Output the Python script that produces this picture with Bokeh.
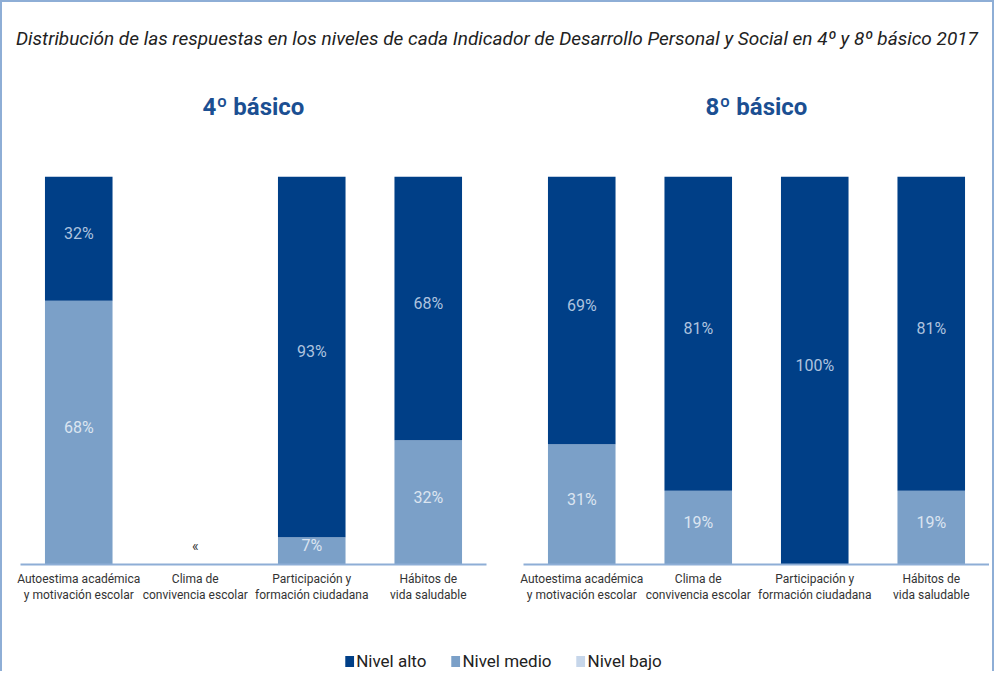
import numpy as np
from bokeh.plotting import figure
from bokeh.models import ColumnDataSource, FactorRange, Range1d, Legend, LegendItem, Div, Title
from bokeh.layouts import column, row
from bokeh.core.properties import value
from bokeh.embed import file_html
from bokeh.resources import INLINE

# ---------------- data ----------------
titulo = ("Distribución de las respuestas en los niveles de cada Indicador de "
          "Desarrollo Personal y Social en 4º y 8º básico 2017")
grados = ["4º básico", "8º básico"]
indicadores = ["Autoestima académica\ny motivación escolar",
               "Clima de\nconvivencia escolar",
               "Participación y\nformación ciudadana",
               "Hábitos de\nvida saludable"]
niveles = ["Nivel alto", "Nivel medio", "Nivel bajo"]
alto_4 = [32, None, 93, 68]
medio_4 = [68, None, 7, 32]
bajo_4 = [0, None, 0, 0]
alto_8 = [69, 81, 100, 81]
medio_8 = [31, 19, 0, 19]
bajo_8 = [0, 0, 0, 0]
sin_dato = "«"

# ---------------- style ----------------
FONT = "Roboto"
col_niveles = ["#003f87", "#7ba0c8", "#c6d6ea"]
col_etiqueta = ["#aec3df", "#dbe5f1", "#5a7fae"]
BORDE = "#8eaed6"


def fuente(alto, medio, bajo):
    a = np.array([np.nan if v is None else v for v in alto], dtype=float)
    m = np.array([np.nan if v is None else v for v in medio], dtype=float)
    b = np.array([np.nan if v is None else v for v in bajo], dtype=float)
    return ColumnDataSource(dict(cat=indicadores, alto=a, medio=m, bajo=b))


def etiquetas(alto, medio, bajo):
    xs, ys, ts, cs = [], [], [], []
    for i, cat in enumerate(indicadores):
        if alto[i] is None:
            continue
        base = 0.0
        for val, k in ((bajo[i], 2), (medio[i], 1), (alto[i], 0)):
            if val and val > 0:
                xs.append(cat)
                ys.append(base + val / 2.0)
                ts.append(f"{val}%")
                cs.append(col_etiqueta[k])
            base += val
    return ColumnDataSource(dict(x=xs, y=ys, t=ts, c=cs))


def panel(nombre, alto, medio, bajo, mbl, mbr):
    p = figure(x_range=FactorRange(*indicadores), y_range=Range1d(0, 100),
               frame_width=466, frame_height=388, output_backend="svg",
               toolbar_location=None, y_axis_location=None,
               min_border_left=mbl, min_border_right=mbr,
               min_border_top=108, min_border_bottom=64, outline_line_color=None,
               title=nombre)
    p.title.align = "center"
    p.title.text_font = FONT
    p.title.text_font_size = "24px"
    p.title.text_font_style = "bold"
    p.title.text_color = "#1b4f92"
    p.title.standoff = 10
    # empty spacer panel between the panel title and the bars
    p.add_layout(Title(text=" ", text_font_size="1px", standoff=48), "above")
    src = fuente(alto, medio, bajo)
    p.vbar_stack(["bajo", "medio", "alto"], x="cat", width=0.58, source=src,
                 color=[col_niveles[2], col_niveles[1], col_niveles[0]], line_color=None)
    lab = etiquetas(alto, medio, bajo)
    p.text(x="x", y="y", text="t", text_color="c", source=lab, text_align="center",
           text_baseline="middle", text_font=value(FONT), text_font_size="16px",
           y_offset=-5)
    faltan = [indicadores[i] for i in range(len(indicadores)) if alto[i] is None]
    if faltan:
        p.text(x=faltan, y=[0] * len(faltan), text=[sin_dato] * len(faltan),
               text_align="center", text_baseline="middle", text_color="#333333",
               text_font=value(FONT), text_font_size="14px", y_offset=-19)
    p.xgrid.visible = False
    p.ygrid.visible = False
    ax = p.xaxis[0]
    ax.axis_line_color = BORDE
    ax.axis_line_width = 2
    ax.major_tick_line_color = None
    ax.minor_tick_line_color = None
    ax.major_label_text_font = FONT
    ax.major_label_text_font_size = "12px"
    ax.major_label_text_color = "#333333"
    ax.major_label_standoff = 1
    return p, src


p1, s1 = panel(grados[0], alto_4, medio_4, bajo_4, 18, 16)
p2, s2 = panel(grados[1], alto_8, medio_8, bajo_8, 21, 0)

# legend figure
lf = figure(x_range=FactorRange(*indicadores), y_range=Range1d(1000, 1001), width=987,
            height=43, output_backend="svg", toolbar_location=None,
            x_axis_location=None, y_axis_location=None, min_border=0,
            min_border_left=14, outline_line_color=None)
lf.xgrid.visible = False
lf.ygrid.visible = False
rs = lf.vbar_stack(["bajo", "medio", "alto"], x="cat", width=0.58, source=s2,
                   color=[col_niveles[2], col_niveles[1], col_niveles[0]], line_color=None)
leg = Legend(items=[LegendItem(label=niveles[0], renderers=[rs[2]]),
                    LegendItem(label=niveles[1], renderers=[rs[1]]),
                    LegendItem(label=niveles[2], renderers=[rs[0]])],
             orientation="horizontal", location="bottom_center",
             glyph_width=11, glyph_height=14, label_standoff=2, spacing=23,
             label_text_font=FONT, label_text_font_size="17px",
             label_text_color="#222222", border_line_color=None,
             background_fill_alpha=0, padding=0, margin=0)
lf.add_layout(leg, "center")

cab = Div(text=titulo, width=980, height=56,
          styles={"font-family": "Roboto, sans-serif",
                  "font-style": "italic", "font-size": "19px", "color": "#222222",
                  "text-align": "center", "white-space": "nowrap",
                  "line-height": "64px", "width": "980px"})

layout = column(cab, row(p1, p2), lf,
                styles={"border-top": f"2px solid {BORDE}",
                        "border-left": f"2px solid {BORDE}",
                        "border-right": f"2px solid {BORDE}"})

open("out.html", "w").write(file_html(layout, INLINE))
